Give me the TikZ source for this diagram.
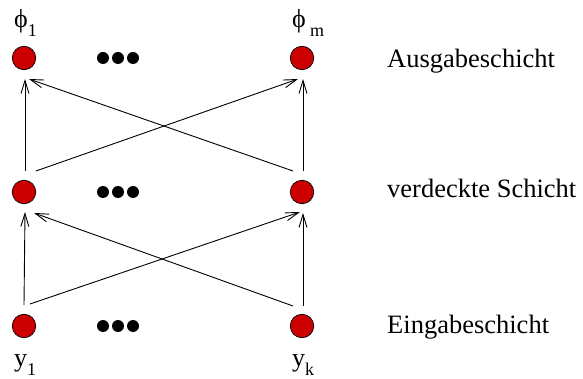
\documentclass[tikz,border=0pt]{standalone}
\usepackage{fontspec}
\setmainfont{Liberation Serif}
\usetikzlibrary{arrows.meta}
\tikzset{
  neuron/.style={circle, draw=black, line width=0.7pt, fill={rgb,255:red,204;green,0;blue,0}, minimum size=23.5pt, inner sep=0pt},
  dotc/.style={circle, fill=black, minimum size=12pt, inner sep=0pt},
  conn/.style={line width=0.9pt, -{Straight Barb[length=13pt,width=8pt,line width=0.9pt]}},
  layerlabel/.style={anchor=base west, inner sep=0pt, font=\fontsize{26.5}{30}\selectfont},
  varlabel/.style={anchor=base west, inner sep=0pt, font=\fontsize{26}{30}\selectfont},
}
\newcommand{\subsc}[1]{\raisebox{-9pt}{\fontsize{18}{20}\selectfont #1}}
\begin{document}
\begin{tikzpicture}[x=1pt,y=-1pt]
\useasboundingbox (0,0) rectangle (583,379);
% neurons
\node[neuron] (t1) at (24,58) {};
\node[neuron] (tm) at (302,58) {};
\node[neuron] (h1) at (24,192) {};
\node[neuron] (hm) at (302,192) {};
\node[neuron] (i1) at (24,326) {};
\node[neuron] (ik) at (302,326) {};
% ellipsis dots
\foreach \r/\yy in {t/58,h/192,i/326}{
  \node[dotc] (\r d1) at (103,\yy) {};
  \node[dotc] (\r d2) at (118,\yy) {};
  \node[dotc] (\r d3) at (133,\yy) {};
}
% connections input -> hidden
\draw[conn] ([shift={(0,-21)}]i1.center) -- ([shift={(1,20)}]h1.center);
\draw[conn] ([shift={(6,-22)}]i1.center) -- ([shift={(-2,20)}]hm.center);
\draw[conn] ([shift={(-9,-20)}]ik.center) -- ([shift={(10,21)}]h1.center);
\draw[conn] ([shift={(1,-20)}]ik.center) -- ([shift={(1,21)}]hm.center);
% hidden -> output
\draw[conn] ([shift={(1,-21)}]h1.center) -- ([shift={(1,21)}]t1.center);
\draw[conn] ([shift={(12,-21)}]h1.center) -- ([shift={(-4,21)}]tm.center);
\draw[conn] ([shift={(-9,-21)}]hm.center) -- ([shift={(5,21)}]t1.center);
\draw[conn] ([shift={(1,-21)}]hm.center) -- ([shift={(1,21)}]tm.center);
% variable labels
\node[varlabel] (lphi1) at (14,28) {ϕ\subsc{1}};
\node[varlabel] (lphim) at (292,28) {ϕ\,\subsc{m}};
\node[varlabel] (ly1) at (14,366) {y\subsc{1}};
\node[varlabel] (lyk) at (292,366) {y\subsc{k}};
% layer labels
\node[layerlabel] (la) at (387,68) {Ausgabeschicht};
\node[layerlabel] (lh) at (387,198) {verdeckte Schicht};
\node[layerlabel] (le) at (387,333) {Eingabeschicht};
\end{tikzpicture}
\end{document}
